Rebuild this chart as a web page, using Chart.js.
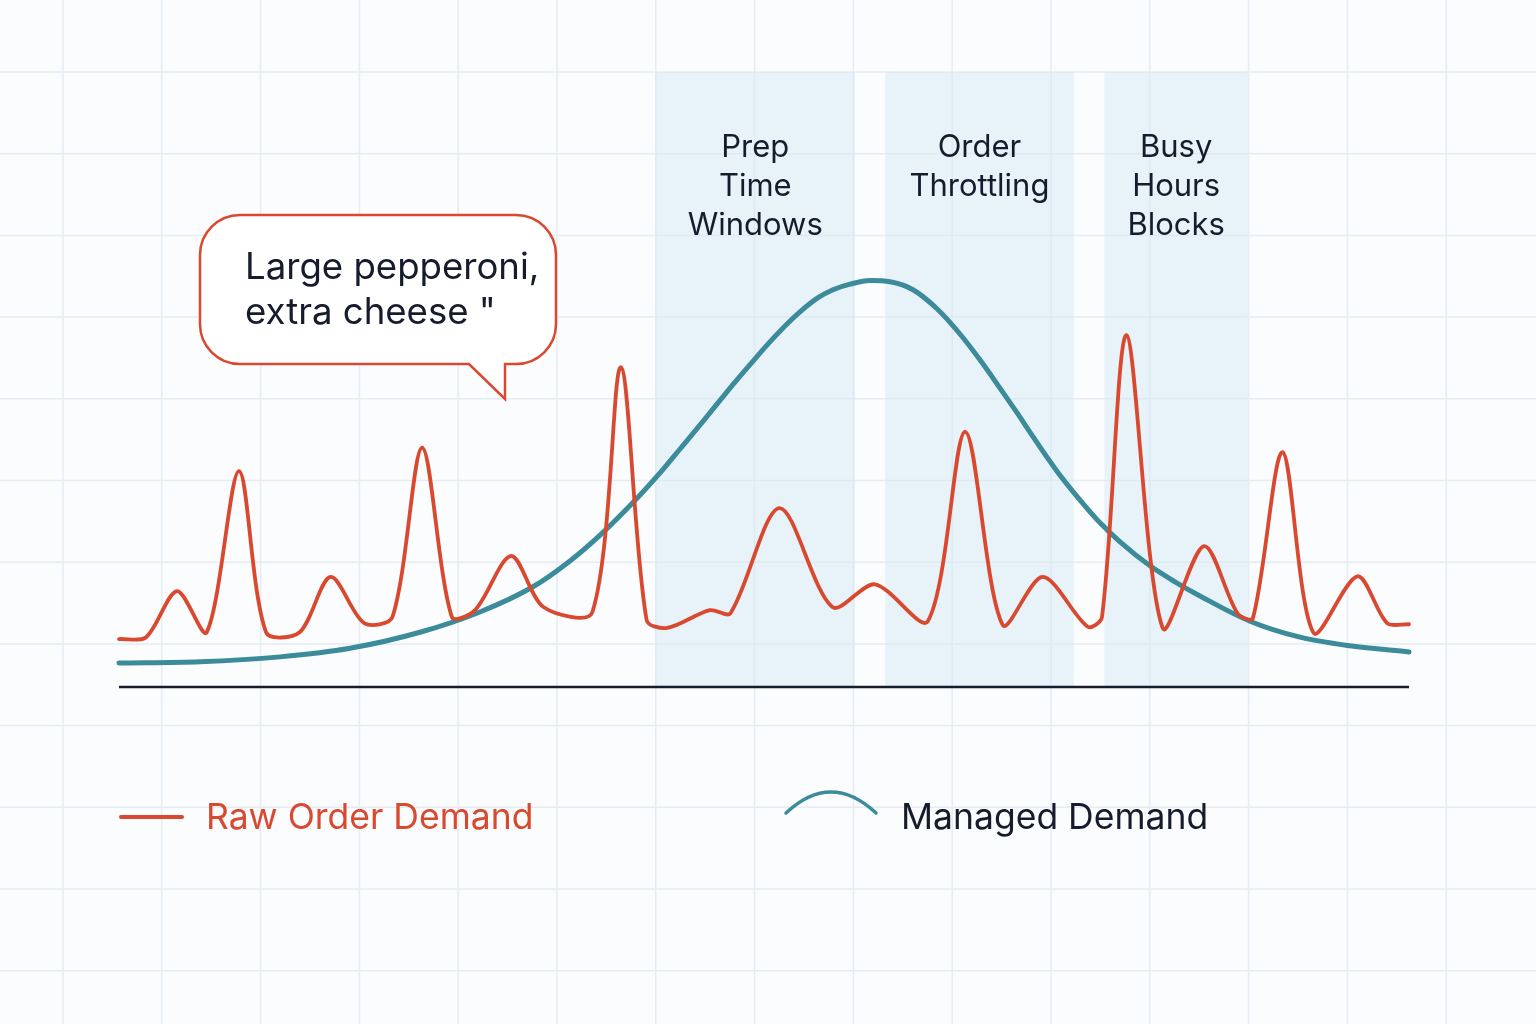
<!DOCTYPE html>
<html>
<head>
<meta charset="utf-8">
<script src="https://cdn.jsdelivr.net/npm/chart.js@4.4.1/dist/chart.umd.min.js"></script>
<style>
  html, body { margin: 0; padding: 0; background: #fbfcfe; }
  #wrap { width: 1536px; height: 1024px; }
</style>
</head>
<body>
<div id="wrap"><canvas id="demandChart" width="1536" height="1024"></canvas></div>
<script>
// time runs 0..100 across the evening, demand is 0..100
const rawTime = [0, 2.1, 4.5, 6.8, 9.3, 11.4, 14.0, 16.4, 19.0, 21.2, 23.5, 25.8, 27.6, 30.4, 32.9, 36.7, 38.9, 40.9, 42.5, 45.8, 47.4, 51.2, 55.3, 58.6, 62.7, 65.6, 68.5, 71.6, 75.1, 76.2, 78.1, 80.9, 84.1, 86.7, 87.9, 90.2, 92.6, 96.0, 98.3, 100];
const rawDemand = [7.8, 8.1, 15.6, 8.9, 35.1, 8.9, 8.9, 17.9, 10.4, 11.4, 38.9, 11.4, 12.5, 21.3, 13.0, 12.2, 52.0, 10.9, 9.6, 12.5, 12.0, 29.1, 13.0, 16.7, 10.7, 41.5, 10.1, 17.9, 9.8, 11.4, 57.2, 9.6, 22.9, 12.0, 11.2, 38.2, 8.8, 18.0, 10.4, 10.2];

const managedTime = [0, 6.28, 12.48, 17.91, 23.33, 27.98, 32.09, 34.96, 37.29, 40.16, 41.94, 43.49, 45.43, 47.13, 48.91, 50.23, 51.63, 52.79, 54.19, 55.35, 56.67, 58.22, 59.77, 61.55, 63.41, 65.19, 66.74, 68.29, 69.61, 70.85, 72.71, 74.5, 76.05, 77.6, 79.92, 81.86, 83.8, 87.67, 91.55, 95.43, 100];
const managedDemand = [3.9, 4.1, 4.9, 6.3, 8.9, 12.2, 16.3, 20.5, 24.7, 30.7, 34.8, 38.7, 43.6, 48.0, 52.4, 55.6, 58.7, 61.0, 63.3, 64.6, 65.5, 66.1, 65.9, 64.6, 61.5, 57.4, 53.2, 48.6, 44.6, 40.7, 35.1, 30.4, 26.7, 23.6, 19.7, 17.1, 14.8, 10.7, 8.1, 6.7, 5.7];

const bandStart = [41.6, 59.4, 76.4];
const bandEnd = [57.05, 74.0, 87.5];
const bandLabels = [["Prep", "Time", "Windows"], ["Order", "Throttling"], ["Busy", "Hours", "Blocks"]];

const seriesNames = ["Raw Order Demand", "Managed Demand"];
const bubbleLines = ["Large pepperoni,", "extra cheese \""];

const RED = "#d8492f";
const TEAL = "#3b8b9a";
const INK = "#161c2c";
const FONT = "Inter, 'Noto Sans', sans-serif";

function toPoints(xs, ys) {
  return xs.map((x, i) => ({ x: x, y: ys[i] }));
}

// background grid + shaded bands + annotations
const decorPlugin = {
  id: "decor",
  beforeDraw(chart) {
    const ctx = chart.ctx;
    const w = chart.width, h = chart.height;
    ctx.save();
    ctx.fillStyle = "#fbfcfe";
    ctx.fillRect(0, 0, w, h);
    ctx.strokeStyle = "#e5ecf3";
    ctx.lineWidth = 1.5;
    for (let x = 63; x < w; x += 98.8) {
      ctx.beginPath(); ctx.moveTo(x, 0); ctx.lineTo(x, h); ctx.stroke();
    }
    for (let y = 72; y < h; y += 81.7) {
      ctx.beginPath(); ctx.moveTo(0, y); ctx.lineTo(w, y); ctx.stroke();
    }
    const xs = chart.scales.x, ys = chart.scales.y;
    ctx.fillStyle = "rgba(214, 232, 243, 0.5)";
    for (let i = 0; i < bandStart.length; i++) {
      const x0 = xs.getPixelForValue(bandStart[i]);
      const x1 = xs.getPixelForValue(bandEnd[i]);
      const y0 = ys.getPixelForValue(100);
      const y1 = ys.getPixelForValue(0);
      ctx.fillRect(x0, y0, x1 - x0, y1 - y0);
    }
    ctx.restore();
  },
  afterDatasetsDraw(chart) {
    const ctx = chart.ctx;
    const xs = chart.scales.x, ys = chart.scales.y;
    ctx.save();
    // baseline
    ctx.strokeStyle = INK;
    ctx.lineWidth = 2.5;
    ctx.beginPath();
    ctx.moveTo(xs.getPixelForValue(0), ys.getPixelForValue(0));
    ctx.lineTo(xs.getPixelForValue(100), ys.getPixelForValue(0));
    ctx.stroke();

    // band labels
    ctx.fillStyle = INK;
    ctx.font = "31px " + FONT;
    ctx.textAlign = "center";
    ctx.textBaseline = "middle";
    for (let i = 0; i < bandLabels.length; i++) {
      const cx = (xs.getPixelForValue(bandStart[i]) + xs.getPixelForValue(bandEnd[i])) / 2;
      bandLabels[i].forEach((line, j) => ctx.fillText(line, cx, 148 + j * 39));
    }

    // speech bubble
    const bx = 200, by = 215, bw = 356, bh = 149, r = 40;
    ctx.beginPath();
    ctx.moveTo(bx + r, by);
    ctx.lineTo(bx + bw - r, by);
    ctx.arcTo(bx + bw, by, bx + bw, by + r, r);
    ctx.lineTo(bx + bw, by + bh - r);
    ctx.arcTo(bx + bw, by + bh, bx + bw - r, by + bh, r);
    ctx.lineTo(505, by + bh);
    ctx.lineTo(505, 399);
    ctx.lineTo(469, by + bh);
    ctx.lineTo(bx + r, by + bh);
    ctx.arcTo(bx, by + bh, bx, by + bh - r, r);
    ctx.lineTo(bx, by + r);
    ctx.arcTo(bx, by, bx + r, by, r);
    ctx.closePath();
    ctx.fillStyle = "#ffffff";
    ctx.fill();
    ctx.strokeStyle = RED;
    ctx.lineWidth = 2.5;
    ctx.stroke();
    ctx.fillStyle = INK;
    ctx.font = "36.6px " + FONT;
    ctx.textAlign = "left";
    bubbleLines.forEach((line, j) => ctx.fillText(line, 245, 268 + j * 45));

    // legend
    ctx.lineCap = "round";
    ctx.strokeStyle = RED;
    ctx.lineWidth = 4;
    ctx.beginPath(); ctx.moveTo(121, 817); ctx.lineTo(182, 817); ctx.stroke();
    ctx.fillStyle = RED;
    ctx.font = "35.5px " + FONT;
    ctx.fillText(seriesNames[0], 206, 818);

    ctx.strokeStyle = TEAL;
    ctx.lineWidth = 3.5;
    ctx.beginPath(); ctx.moveTo(786, 813); ctx.quadraticCurveTo(831, 771, 876, 813); ctx.stroke();
    ctx.fillStyle = INK;
    ctx.fillText(seriesNames[1], 901, 818);
    ctx.restore();
  }
};

new Chart(document.getElementById("demandChart"), {
  type: "line",
  data: {
    datasets: [
      {
        label: seriesNames[1],
        data: toPoints(managedTime, managedDemand),
        borderColor: TEAL,
        borderWidth: 5,
        cubicInterpolationMode: "monotone",
        pointRadius: 0,
        borderCapStyle: "round",
        clip: false,
        order: 2
      },
      {
        label: seriesNames[0],
        data: toPoints(rawTime, rawDemand),
        borderColor: RED,
        borderWidth: 3.8,
        tension: 0.3,
        pointRadius: 0,
        borderCapStyle: "round",
        borderJoinStyle: "round",
        clip: false,
        order: 1
      }
    ]
  },
  options: {
    responsive: false,
    animation: false,
    devicePixelRatio: 1,
    layout: { padding: { left: 119, right: 127, top: 72, bottom: 337 } },
    scales: {
      x: { type: "linear", min: 0, max: 100, display: false },
      y: { min: 0, max: 100, display: false }
    },
    plugins: {
      legend: { display: false },
      tooltip: { enabled: false }
    }
  },
  plugins: [decorPlugin]
});
</script>
</body>
</html>
